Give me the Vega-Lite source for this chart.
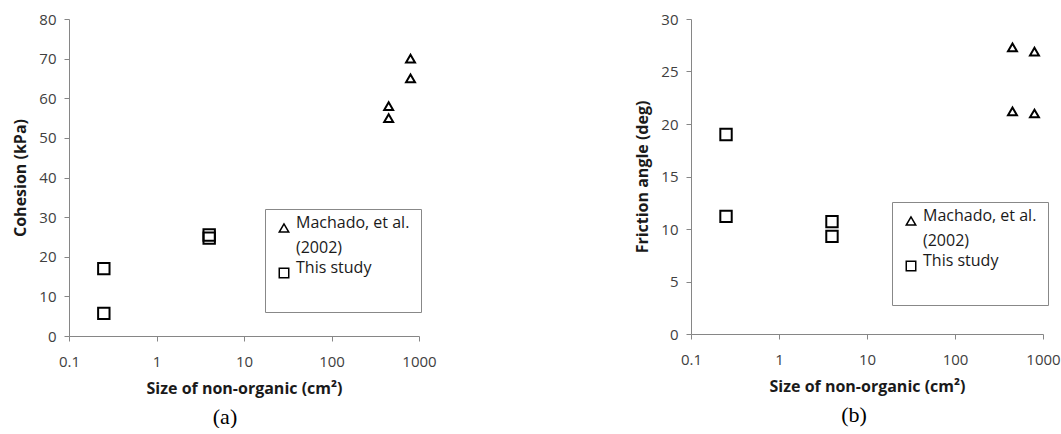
{
  "$schema": "https://vega.github.io/schema/vega-lite/v6.json",
  "background": "white",
  "padding": {"left": 12, "top": 12, "right": 0, "bottom": 0},
  "spacing": 197,
  "datasets": {
    "pts": [
      {"source": "Machado, et al. (2002)", "size": 450, "cohesion": 58, "friction": 27.3},
      {"source": "Machado, et al. (2002)", "size": 450, "cohesion": 55, "friction": 21.2},
      {"source": "Machado, et al. (2002)", "size": 800, "cohesion": 70, "friction": 26.9},
      {"source": "Machado, et al. (2002)", "size": 800, "cohesion": 65, "friction": 21.0},
      {"source": "This study", "size": 0.25, "cohesion": 17, "friction": 19.0},
      {"source": "This study", "size": 0.25, "cohesion": 5.7, "friction": 11.2},
      {"source": "This study", "size": 4, "cohesion": 25.5, "friction": 10.7},
      {"source": "This study", "size": 4, "cohesion": 24.7, "friction": 9.3}
    ]
  },
  "config": {
    "view": {"stroke": null},
    "font": "Open Sans",
    "style": {"guide-label": {"lineHeight": 25}},
    "axis": {
      "domainColor": "#868686",
      "tickColor": "#868686",
      "tickSize": 5,
      "grid": false,
      "labelColor": "#404040",
      "labelFont": "Open Sans",
      "labelFontSize": 15,
      "titleFont": "Open Sans",
      "titleFontSize": 16,
      "titleFontWeight": "bold",
      "titleColor": "#1a1a1a"
    },
    "axisX": {"labelPadding": 13, "titlePadding": 11, "labelFlush": false},
    "axisY": {"labelPadding": 8, "titlePadding": 10},
    "legend": {
      "title": null, "orient": "none", "strokeColor": "#888888", "padding": 11,
      "labelFont": "Open Sans", "labelFontSize": 16, "labelColor": "#1a1a1a", "labelLimit": 250, "labelOffset": 4, "labelBaseline": "alphabetic",
      "symbolStrokeColor": "black", "symbolStrokeWidth": 1.5, "symbolOffset": 0, "rowPadding": 4, "symbolSize": 90
    },
    "title": {"font": "Liberation Serif", "fontSize": 22, "fontWeight": "normal", "color": "black", "orient": "bottom", "anchor": "middle", "offset": 11}
  },
  "hconcat": [
    {
      "width": 350,
      "height": 317,
      "title": {"text": "(a)", "dx": -19},
      "data": {"name": "pts"},
      "encoding": {
        "x": {"field": "size", "type": "quantitative", "scale": {"type": "log", "domain": [0.1, 1000]}, "axis": {"title": "Size of non-organic (cm²)", "values": [0.1, 1, 10, 100, 1000], "format": "~g"}},
        "y": {"field": "cohesion", "type": "quantitative", "scale": {"domain": [0, 80]}, "axis": {"title": "Cohesion (kPa)", "values": [0, 10, 20, 30, 40, 50, 60, 70, 80]}},
        "shape": {"field": "source", "type": "nominal", "scale": {"domain": ["Machado, et al. (2002)", "This study"], "range": ["triangle-up", "square"]},
          "legend": {"legendX": 196, "legendY": 190,
            "labelExpr": "datum.label == 'This study' ? ['This study', ''] : ['Machado, et al.', '(2002)']"}},
        "color": {"value": "black"}
      },
      "layer": [
        {"transform": [{"filter": "datum.source == 'Machado, et al. (2002)'"}], "mark": {"type": "point", "filled": false, "strokeWidth": 2, "opacity": 1, "size": 80}},
        {"transform": [{"filter": "datum.source == 'This study'"}], "mark": {"type": "point", "filled": false, "strokeWidth": 2, "opacity": 1, "size": 130}}
      ]
    },
    {
      "width": 352,
      "height": 315,
      "title": {"text": "(b)", "dx": -13},
      "data": {"name": "pts"},
      "encoding": {
        "x": {"field": "size", "type": "quantitative", "scale": {"type": "log", "domain": [0.1, 1000]}, "axis": {"title": "Size of non-organic (cm²)", "values": [0.1, 1, 10, 100, 1000], "format": "~g"}},
        "y": {"field": "friction", "type": "quantitative", "scale": {"domain": [0, 30]}, "axis": {"title": "Friction angle (deg)", "values": [0, 5, 10, 15, 20, 25, 30]}},
        "shape": {"field": "source", "type": "nominal", "scale": {"domain": ["Machado, et al. (2002)", "This study"], "range": ["triangle-up", "square"]},
          "legend": {"legendX": 201, "legendY": 183,
            "labelExpr": "datum.label == 'This study' ? ['This study', ''] : ['Machado, et al.', '(2002)']"}},
        "color": {"value": "black"}
      },
      "layer": [
        {"transform": [{"filter": "datum.source == 'Machado, et al. (2002)'"}], "mark": {"type": "point", "filled": false, "strokeWidth": 2, "opacity": 1, "size": 80}},
        {"transform": [{"filter": "datum.source == 'This study'"}], "mark": {"type": "point", "filled": false, "strokeWidth": 2, "opacity": 1, "size": 130}}
      ]
    }
  ],
  "resolve": {"scale": {"shape": "independent"}, "legend": {"shape": "independent"}}
}
